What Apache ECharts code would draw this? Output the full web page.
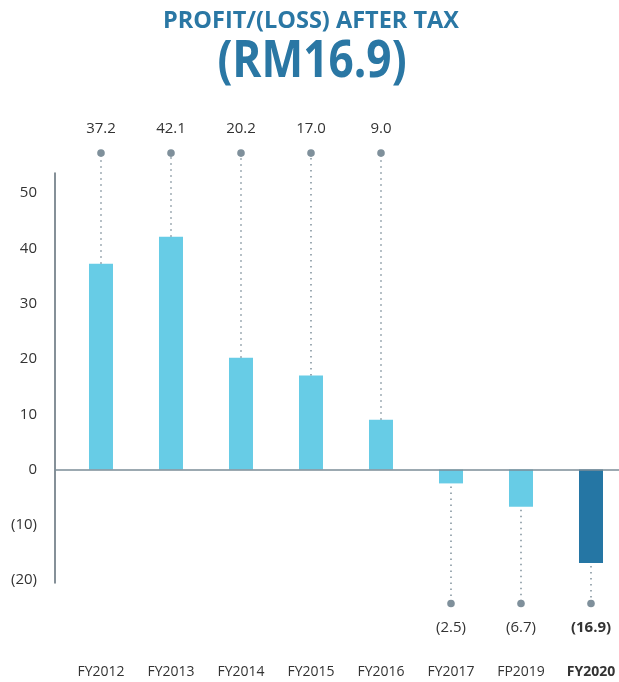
<!DOCTYPE html>
<html>
<head>
<meta charset="utf-8">
<script src="https://cdn.jsdelivr.net/npm/echarts@6/dist/echarts.min.js"></script>
<style>
    html, body { margin: 0; padding: 0; background: #fff; }
    #chart { width: 619px; height: 682px; }
</style>
</head>
<body>
<div id="chart"></div>
<script>
    // data
    var categories = ['FY2012', 'FY2013', 'FY2014', 'FY2015', 'FY2016', 'FY2017', 'FP2019', 'FY2020'];
    var profit = [37.2, 42.1, 20.2, 17.0, 9.0, -2.5, -6.7, -16.9];
    var yTicks = [-20, -10, 0, 10, 20, 30, 40, 50];

    var LIGHT = '#67cce6';
    var DARK = '#2576a4';
    var GREY = '#7f909b';
    var DOT_HI = 57.2;   // where the upper dots sit (axis units)
    var DOT_LO = -24.2;  // where the lower dots sit

    function fmt(v) {
        return v < 0 ? '(' + (-v).toFixed(1) + ')' : v.toFixed(1);
    }

    var myChart = echarts.init(document.getElementById('chart'));

    var barData = profit.map(function (v, i) {
        return {
            value: [i, v],
            itemStyle: { color: i === profit.length - 1 ? DARK : LIGHT }
        };
    });
    var pinData = profit.map(function (v, i) { return [i, v]; });

    myChart.setOption({
        animation: false,
        textStyle: { fontFamily: 'Open Sans' },
        graphic: [
            {
                type: 'text', x: 311, y: 21, scaleX: 1,
                style: {
                    text: 'PROFIT/(LOSS) AFTER TAX', fill: '#2a77a4',
                    font: 'bold 23.5px "Open Sans"', align: 'center', verticalAlign: 'middle'
                }
            },
            {
                type: 'text', x: 312, y: 62, scaleX: 0.85,
                style: {
                    text: '(RM16.9)', fill: '#2a77a4',
                    font: 'bold 52px "Open Sans"', align: 'center', verticalAlign: 'middle'
                }
            }
        ],
        grid: { left: 55, right: 0, top: 173, bottom: 99 },
        xAxis: {
            type: 'value',
            min: -0.657,
            max: 7.4,
            axisLine: { show: false },
            axisTick: { show: false },
            splitLine: { show: false },
            axisLabel: {
                customValues: [0, 1, 2, 3, 4, 5, 6, 7],
                margin: 82,
                fontSize: 14,
                color: '#333',
                formatter: function (v) {
                    var i = Math.round(v);
                    return i === categories.length - 1 ? '{b|' + categories[i] + '}' : categories[i];
                },
                rich: { b: { fontWeight: 'bold', fontSize: 14, color: '#333' } }
            }
        },
        yAxis: {
            type: 'value',
            min: -20.5,
            max: 53.6,
            axisLine: { show: true, onZero: false, lineStyle: { color: '#5c6b76', width: 1.5 } },
            axisTick: { show: false },
            splitLine: { show: false },
            axisLabel: {
                customValues: yTicks,
                margin: 18,
                fontSize: 15,
                color: '#333',
                formatter: function (v) { return v < 0 ? '(' + (-v) + ')' : '' + v; }
            }
        },
        series: [
            {
                type: 'bar',
                barWidth: 24,
                data: barData,
                markLine: {
                    silent: true,
                    symbol: 'none',
                    label: { show: false },
                    lineStyle: { color: '#7b8c97', width: 1.5, type: 'solid' },
                    data: [{ yAxis: 0 }]
                }
            },
            {
                type: 'custom',
                clip: false,
                data: pinData,
                z: 5,
                renderItem: function (params, api) {
                    var x = api.value(0), v = api.value(1);
                    var up = v >= 0;
                    var p0 = api.coord([x, v]);
                    var pd = api.coord([x, up ? DOT_HI : DOT_LO]);
                    var last = params.dataIndex === profit.length - 1;
                    return {
                        type: 'group',
                        children: [
                            {
                                type: 'line',
                                shape: { x1: p0[0], y1: p0[1] + (up ? 0 : 3), x2: pd[0], y2: pd[1] },
                                style: { stroke: GREY, lineWidth: 1.5, lineDash: [1.5, 4.5] }
                            },
                            {
                                type: 'circle',
                                shape: { cx: pd[0], cy: pd[1], r: 3.8 },
                                style: { fill: GREY }
                            },
                            {
                                type: 'text',
                                x: pd[0], y: pd[1] + (up ? -24 : 24),
                                style: {
                                    text: fmt(v), fill: '#333',
                                    font: (last ? 'bold ' : '') + '15px "Open Sans"',
                                    align: 'center', verticalAlign: 'middle'
                                }
                            }
                        ]
                    };
                }
            }
        ]
    });
    window.onresize = myChart.resize;
</script>
</body>
</html>
